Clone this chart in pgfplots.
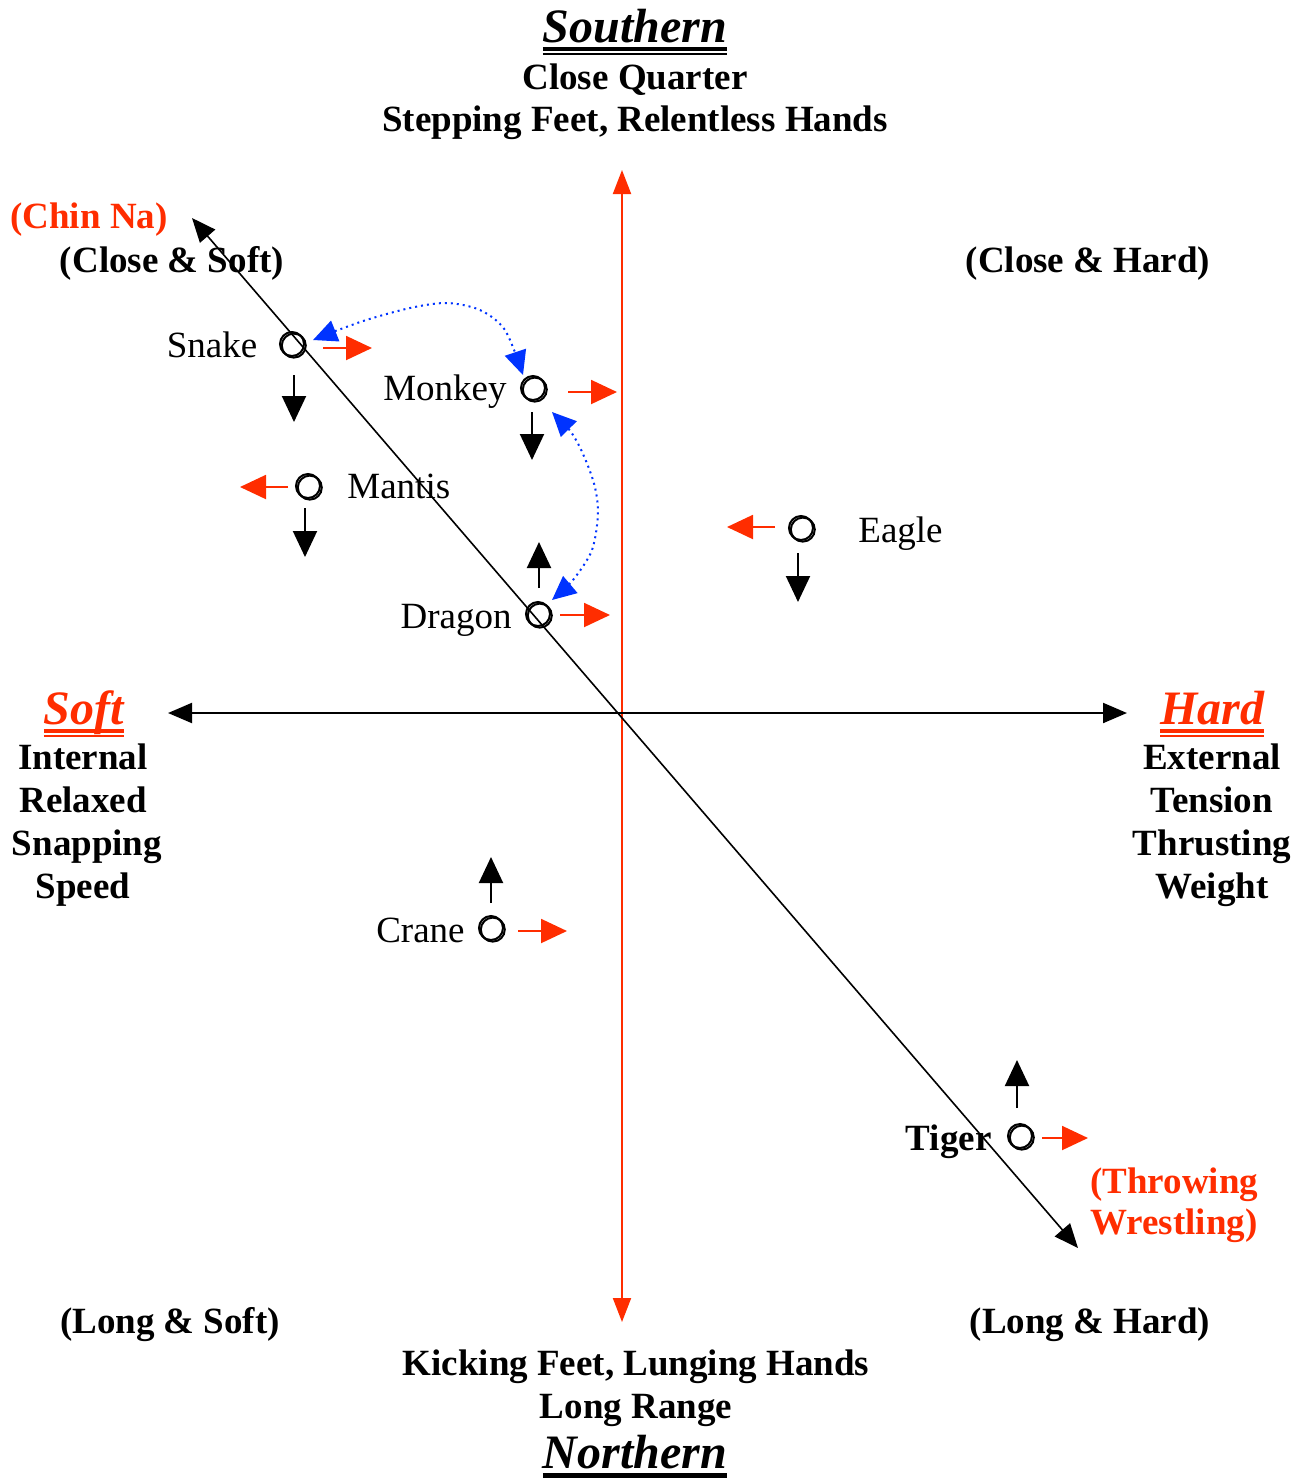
\documentclass[border=0pt]{standalone}
\usepackage{fontspec}
\setmainfont{Liberation Serif}
\usepackage{pgfplots}
\pgfplotsset{compat=1.18}
\usetikzlibrary{arrows.meta}
\definecolor{cred}{HTML}{FF2D00}
\definecolor{cblue}{HTML}{0033FF}
\newcommand\fsn{\fontsize{18.5}{21.5}\selectfont}
\newcommand\fst{\fontsize{24}{28}\selectfont}
% double underline (thick over thin) and single thick underline
\newcommand\dul[1]{\setbox0=\hbox{#1}\leavevmode\rlap{\copy0}\rlap{\rule[-4.5pt]{\wd0}{2pt}}\rule[-6.5pt]{\wd0}{1pt}}
\newcommand\sul[1]{\setbox0=\hbox{#1}\leavevmode\rlap{\copy0}\rule[-5pt]{\wd0}{2.5pt}}
\tikzset{
  sh/.style={-{Triangle[length=13pt,width=12pt]}, line width=1pt},
  lab/.style={anchor=base, font=\fsn, inner sep=0pt},
  blab/.style={anchor=base, font=\fsn\bfseries, inner sep=0pt},
  tlab/.style={anchor=base, font=\fst\bfseries\itshape, inner sep=0pt},
}
\begin{document}
\begin{tikzpicture}
\begin{axis}[
  width=652pt, height=740pt, scale only axis,
  xmin=0, xmax=1304, ymin=0, ymax=1480,
  y dir=reverse, hide axis, clip=false
]
% main axes
\addplot[cred, line width=1pt, {Triangle[length=12pt,width=9pt]}-{Triangle[length=12pt,width=9pt]}]
  coordinates {(622,1322) (622,170)};
\addplot[black, line width=1pt, {Triangle[length=12pt,width=10pt]}-{Triangle[length=12pt,width=10pt]}]
  coordinates {(168,713) (1127,713)};
\addplot[black, line width=0.8pt, {Triangle[length=12pt,width=10pt]}-{Triangle[length=12pt,width=10pt]}]
  coordinates {(192,218) (1078,1248)};

% style markers
\addplot[only marks, mark=o, mark size=6pt, line width=1pt] coordinates {
  (292,344) (533,388) (308,486) (801,528) (538,614) (491,928) (1020,1136)};
\addplot[only marks, mark=o, mark size=6pt, line width=1pt, xshift=0.9pt, yshift=-0.8pt] coordinates {
  (292,344) (533,388) (308,486) (801,528) (538,614) (491,928) (1020,1136)};

% red (hard/soft) arrows
\addplot[cred, sh] coordinates {(323,348) (372,348)};
\addplot[cred, sh] coordinates {(568,392) (617,392)};
\addplot[cred, sh] coordinates {(288,487) (240,487)};
\addplot[cred, sh] coordinates {(775,527) (727,527)};
\addplot[cred, sh] coordinates {(560,615) (610,615)};
\addplot[cred, sh] coordinates {(518,931) (567,931)};
\addplot[cred, sh] coordinates {(1042,1138) (1088,1138)};

% black (close/long) arrows
\addplot[black, sh] coordinates {(294,375) (294,422)};
\addplot[black, sh] coordinates {(532,412) (532,460)};
\addplot[black, sh] coordinates {(305,508) (305,557)};
\addplot[black, sh] coordinates {(798,553) (798,602)};
\addplot[black, sh] coordinates {(539,588) (539,542)};
\addplot[black, sh] coordinates {(491,903) (491,857)};
\addplot[black, sh] coordinates {(1017,1108) (1017,1060)};

% blue dotted links
\addplot[cblue, line width=1pt, dotted, smooth,
  {Triangle[length=12pt,width=11pt]}-{Triangle[length=12pt,width=11pt]}]
  coordinates {(313,340) (360,322) (410,308) (447,303) (480,310) (505,330) (523,375)};
\addplot[cblue, line width=1pt, dotted, smooth,
  {Triangle[length=12pt,width=11pt]}-{Triangle[length=12pt,width=11pt]}]
  coordinates {(552,412) (576,440) (593,480) (598,512) (592,550) (573,580) (552,600)};

% headings
\node[tlab] at (axis cs:635,42) {\dul{Southern}};
\node[blab] at (axis cs:635,89) {Close Quarter};
\node[blab] at (axis cs:635,131) {Stepping Feet, Relentless Hands};
\node[tlab] at (axis cs:635,1468) {\sul{Northern}};
\node[blab] at (axis cs:636,1375) {Kicking Feet, Lunging Hands};
\node[blab] at (axis cs:636,1418) {Long Range};

\node[blab, text=cred] at (axis cs:89,228) {(Chin Na)};
\node[blab] at (axis cs:172,272) {(Close \& Soft)};
\node[blab] at (axis cs:1088,272) {(Close \& Hard)};
\node[blab] at (axis cs:170,1333) {(Long \& Soft)};
\node[blab] at (axis cs:1090,1333) {(Long \& Hard)};

\node[tlab, text=cred] at (axis cs:84,724) {\dul{Soft}};
\node[blab] at (axis cs:83,769) {Internal};
\node[blab] at (axis cs:83,812) {Relaxed};
\node[blab] at (axis cs:87,855) {Snapping};
\node[blab] at (axis cs:83,898) {Speed};

\node[tlab, text=cred] at (axis cs:1212,724) {\dul{Hard}};
\node[blab] at (axis cs:1212,769) {External};
\node[blab] at (axis cs:1212,812) {Tension};
\node[blab] at (axis cs:1212,855) {Thrusting};
\node[blab] at (axis cs:1212,898) {Weight};

\node[blab, text=cred, anchor=base west] at (axis cs:1090,1193) {(Throwing};
\node[blab, text=cred, anchor=base west] at (axis cs:1090,1234) {Wrestling)};

% style names
\node[lab] at (axis cs:212,357) {Snake};
\node[lab] at (axis cs:445,400) {Monkey};
\node[lab, anchor=base west] at (axis cs:347,498) {Mantis};
\node[lab, anchor=base west] at (axis cs:858,542) {Eagle};
\node[lab, anchor=base east] at (axis cs:512,628) {Dragon};
\node[lab, anchor=base east] at (axis cs:465,942) {Crane};
\node[blab, anchor=base east] at (axis cs:992,1150) {Tiger};
\end{axis}
\pgfresetboundingbox
\path (current axis.south west) rectangle (current axis.north east);
\end{tikzpicture}
\end{document}
